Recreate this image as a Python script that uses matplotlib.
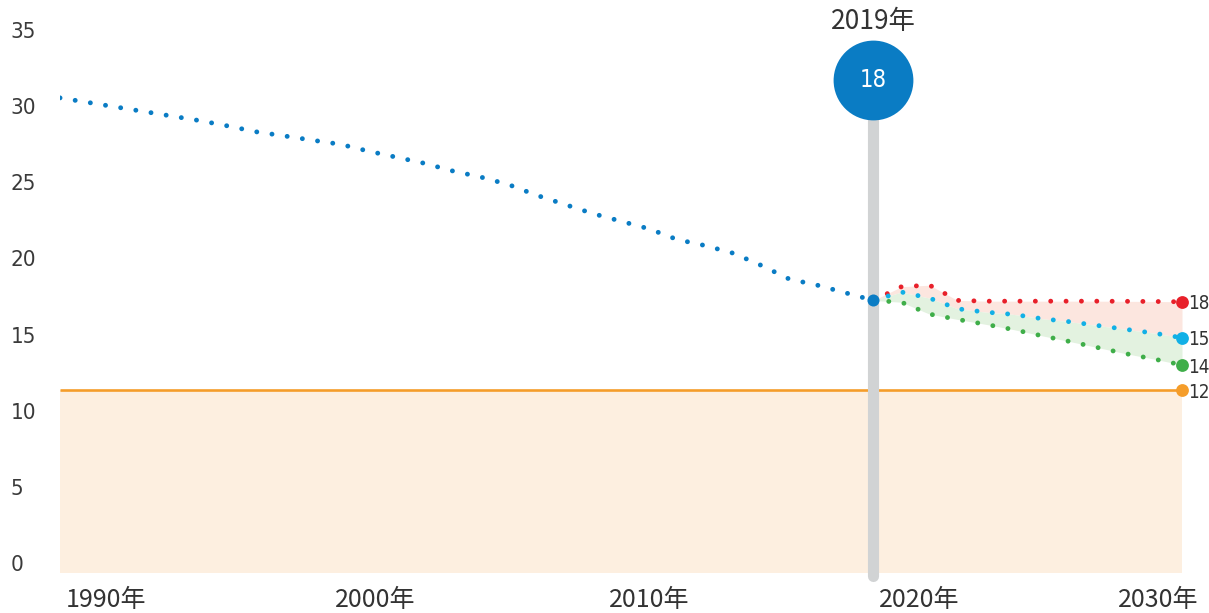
import matplotlib
matplotlib.use("Agg")
import matplotlib.pyplot as plt
from matplotlib.transforms import ScaledTranslation
from matplotlib import font_manager
from matplotlib.font_manager import FontProperties
import numpy as np

# ---------------- data ----------------
hist_years = list(range(1990, 2020))
hist_values = [31.2, 30.9, 30.6, 30.3, 30.0, 29.7, 29.35, 28.97, 28.7, 28.42,
               28.15, 27.7, 27.3, 26.9, 26.4, 26.0, 25.5, 24.8, 24.2, 23.6,
               23.1, 22.6, 21.9, 21.5, 21.0, 20.2, 19.3, 18.9, 18.4, 17.9]
proj_years = list(range(2019, 2031))
proj_red = [17.9, 18.8, 18.9, 17.9, 17.85, 17.85, 17.85, 17.85, 17.85, 17.84, 17.83, 17.81]
proj_cyan = [17.9, 18.45, 18.05, 17.35, 17.13, 16.98, 16.7, 16.5, 16.25, 16.0, 15.75, 15.45]
proj_green = [17.9, 17.78, 17.0, 16.65, 16.33, 15.98, 15.58, 15.2, 14.8, 14.4, 14.05, 13.66]
target_value = 12
highlight_year = 2019
highlight_label = "2019年"
x_tick_years = [1990, 2000, 2010, 2020, 2030]
x_tick_labels = ["1990年", "2000年", "2010年", "2020年", "2030年"]
y_ticks = [0, 5, 10, 15, 20, 25, 30, 35]

# ---------------- style ----------------
C_BLUE = "#0a7cc4"
C_CYAN = "#12b0e6"
C_RED = "#e8202a"
C_GREEN = "#3fae49"
C_ORANGE = "#f59d2a"
C_ORANGE_FILL = "#fdefe0"
C_RED_FILL = "#fce6df"
C_GREEN_FILL = "#e3f2e0"
C_GRAY = "#d1d3d4"
C_TEXT = "#333333"
CJK = ["Noto Sans CJK SC", "DejaVu Sans"]


def find_narrow():
    cands = []
    for f in font_manager.fontManager.ttflist:
        nm = f.name.lower()
        path = f.fname.lower()
        narrowish = ("narrow" in nm or "condensed" in nm or "condensed" in path
                     or "narrow" in path or str(f.stretch) in ("condensed", "semi-condensed", "extra-condensed"))
        if narrowish and f.style == "normal" and "bold" not in path and "italic" not in path \
                and "oblique" not in path:
            cands.append(f)
    if not cands:
        return None
    return cands[0].fname


narrow_path = find_narrow()
if narrow_path:
    def NFP(size, weight="normal"):
        return FontProperties(fname=narrow_path, size=size)
    END_SIZE, CIRC_SIZE, Y_SIZE = 13.5, 17, 16
else:
    def NFP(size, weight="normal"):
        return FontProperties(family="Roboto", size=size, weight=weight)
    END_SIZE, CIRC_SIZE, Y_SIZE = 11, 15, 15

W, H = 1209, 613
fig = plt.figure(figsize=(W / 100, H / 100), dpi=100)
ax = fig.add_axes([60 / W, 1 - 573 / H, (1182 - 60) / W, (573 - 40) / H])
ax.set_xlim(1990, 2030)
ax.set_ylim(0, 35)
for s in ax.spines.values():
    s.set_visible(False)

# target band
ax.fill_between([1990, 2030], 0, target_value, color=C_ORANGE_FILL, lw=0, zorder=1)
ax.plot([1990, 2030], [target_value, target_value], color=C_ORANGE, lw=1.9, zorder=3,
        solid_capstyle="butt")

# projection ranges
ax.fill_between(proj_years, proj_red, proj_cyan, color=C_RED_FILL, lw=0, zorder=1.5)
ax.fill_between(proj_years, proj_cyan, proj_green, color=C_GREEN_FILL, lw=0, zorder=1.5)

# vertical highlight bar
ax.plot([highlight_year, highlight_year], [-0.2, 32.4], color=C_GRAY, lw=8.0,
        solid_capstyle="round", zorder=4, clip_on=False)

dot_kw = dict(lw=3.5, dashes=(0.01, 3.15), dash_capstyle="round", zorder=5)
ax.plot(hist_years, hist_values, color=C_BLUE, **dot_kw)
ax.plot(proj_years, proj_red, color=C_RED, **dot_kw)
ax.plot(proj_years, proj_cyan, color=C_CYAN, **dot_kw)
ax.plot(proj_years, proj_green, color=C_GREEN, **dot_kw)

# endpoint markers
ax.scatter([hist_years[-1]], [hist_values[-1]], s=75, color=C_BLUE, zorder=6, lw=0, clip_on=False)
ends = [(proj_red[-1], C_RED), (proj_cyan[-1], C_CYAN), (proj_green[-1], C_GREEN),
        (target_value, C_ORANGE)]
for v, c in ends:
    ax.scatter([proj_years[-1]], [v], s=85, color=c, zorder=6, lw=0, clip_on=False)
    ax.annotate(f"{round(v)}", (proj_years[-1], v), xytext=(4.6, -1.5), textcoords="offset points",
                ha="left", va="center", fontproperties=NFP(END_SIZE, "medium"),
                color=C_TEXT, annotation_clip=False)

# highlight bubble
ax.scatter([highlight_year], [32.4], s=3300, color=C_BLUE, zorder=7, lw=0, clip_on=False)
ax.text(highlight_year, 32.4, f"{round(hist_values[-1])}", ha="center", va="center",
        color="white", fontproperties=NFP(CIRC_SIZE), zorder=8)
ax.text(highlight_year, 36.2, highlight_label, ha="center", va="center", color=C_TEXT,
        fontsize=19, fontfamily=CJK, clip_on=False)

# y ticks
ax.set_yticks(y_ticks)
ax.set_yticklabels([str(t) for t in y_ticks])
ax.tick_params(axis="y", length=0, pad=35.5)
for lab in ax.get_yticklabels():
    lab.set_horizontalalignment("left")
    lab.set_fontproperties(NFP(Y_SIZE))
    lab.set_color("#3a3a3a")
    lab.set_transform(lab.get_transform() + ScaledTranslation(0, 10 / 100, fig.dpi_scale_trans))

# x ticks
ax.set_xticks(x_tick_years)
ax.set_xticklabels(x_tick_labels)
ax.tick_params(axis="x", length=0, pad=10)
x_offsets = [46, 35, 28, 18, -24]
for lab, off in zip(ax.get_xticklabels(), x_offsets):
    lab.set_fontfamily(CJK)
    lab.set_fontsize(18)
    lab.set_color(C_TEXT)
    lab.set_transform(lab.get_transform() + ScaledTranslation(off / 100, 0, fig.dpi_scale_trans))

fig.savefig("out.png", dpi=100)
